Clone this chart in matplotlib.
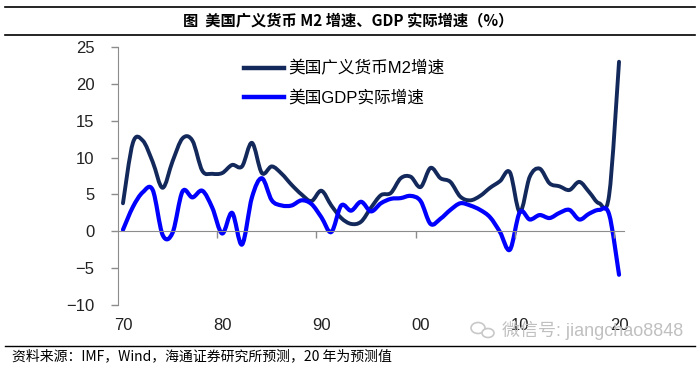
import numpy as np
import matplotlib
matplotlib.use("Agg")
import matplotlib.pyplot as plt
from matplotlib.path import Path
from matplotlib.patches import PathPatch, Ellipse
from matplotlib.lines import Line2D
import matplotlib.transforms as mtransforms

years = list(range(1970, 2021))
m2_growth = [3.8, 12.0, 12.3, 9.4, 5.9, 9.5, 12.6, 12.3, 8.2, 7.8,
             7.9, 9.0, 8.8, 12.0, 7.9, 8.8, 7.8, 6.3, 5.0, 4.1,
             5.5, 3.5, 1.8, 1.0, 1.3, 3.2, 4.9, 5.2, 7.2, 7.4,
             6.0, 8.6, 7.2, 6.7, 4.7, 4.2, 4.8, 5.9, 6.8, 8.0,
             2.6, 7.4, 8.5, 6.5, 6.1, 5.6, 6.7, 5.3, 3.8, 4.9,
             23.0]
gdp_growth = [0.2, 3.3, 5.3, 5.6, -0.5, -0.2, 5.4, 4.6, 5.5, 3.2,
              -0.3, 2.5, -1.8, 4.6, 7.2, 4.2, 3.5, 3.5, 4.2, 3.7,
              1.9, -0.1, 3.5, 2.8, 4.0, 2.7, 3.8, 4.4, 4.5, 4.8,
              4.1, 1.0, 1.7, 2.9, 3.8, 3.5, 2.9, 1.9, -0.1, -2.5,
              2.6, 1.6, 2.2, 1.8, 2.5, 2.9, 1.6, 2.4, 2.9, 2.3,
              -5.9]
tick_years = [1970, 1980, 1990, 2000, 2010, 2020]
tick_labels = ["70", "80", "90", "00", "10", "20"]
series_names = ["美国广义货币M2增速", "美国GDP实际增速"]

navy = "#13295b"
blue = "#0000ff"
grey = "#8c8c8c"
fonts = ["Liberation Sans", "Noto Sans CJK SC"]


def smooth_path(x, y):
    # excel-like smoothed line: bezier segments through the data points
    n = len(x)
    verts = [(x[0], y[0])]
    codes = [Path.MOVETO]
    for i in range(n - 1):
        xa, ya = (x[i - 1], y[i - 1]) if i > 0 else (x[i], y[i])
        xb, yb = (x[i + 2], y[i + 2]) if i + 2 < n else (x[i + 1], y[i + 1])
        c1 = (x[i] + (x[i + 1] - xa) / 6., y[i] + (y[i + 1] - ya) / 6.)
        c2 = (x[i + 1] - (xb - x[i]) / 6., y[i + 1] - (yb - y[i]) / 6.)
        verts += [c1, c2, (x[i + 1], y[i + 1])]
        codes += [Path.CURVE4] * 3
    return Path(verts, codes)


fig = plt.figure(figsize=(7.0, 3.66), dpi=100)
ax = fig.add_axes([118 / 700, 1 - 305 / 366, 506 / 700, 258 / 366])

for vals, col, lw in [(m2_growth, navy, 2.8), (gdp_growth, blue, 3.0)]:
    ax.add_patch(PathPatch(smooth_path(years, vals), facecolor="none",
                           edgecolor=col, lw=lw, capstyle="round",
                           joinstyle="round"))

ax.set_xlim(1969.5, 2020.5)
ax.set_ylim(-10, 25)
ax.set_yticks(range(-10, 26, 5))
for s in ["top", "right"]:
    ax.spines[s].set_visible(False)
ax.spines["left"].set_color(grey)
ax.spines["bottom"].set_color(grey)
ax.spines["bottom"].set_position(("data", 0))
ax.tick_params(axis="y", colors=grey, length=5, width=1, pad=12,
               labelcolor="#222222", labelsize=12)
ax.set_xticks([y - 0.5 for y in tick_years[1:]])
ax.set_xticklabels([])
ax.tick_params(axis="x", colors=grey, length=5, width=1)
for lab in ax.get_yticklabels():
    lab.set_family(fonts)

trans = mtransforms.blended_transform_factory(ax.transData, ax.transAxes)
for yr, lab in zip(tick_years, tick_labels):
    ax.text(yr, -0.08, lab, transform=trans, ha="center", va="center",
            fontsize=12, color="#222222", family=fonts)

handles = [Line2D([], [], color=navy, lw=3.2), Line2D([], [], color=blue, lw=3.2)]
ax.legend(handles, series_names, loc="upper left", bbox_to_anchor=(0.249, 0.948),
          frameon=False, borderpad=0, borderaxespad=0, handlelength=2.4,
          handletextpad=0.25, labelspacing=0.78,
          prop={"family": fonts, "size": 12})

# header / footer rules and text
fig.add_artist(Line2D([0.007, 0.993], [1 - 7 / 366] * 2, color="black", lw=1.2))
fig.add_artist(Line2D([0.007, 0.993], [1 - 35 / 366] * 2, color="black", lw=1.2))
fig.add_artist(Line2D([0.007, 0.993], [1 - 346 / 366] * 2, color="black", lw=1.0))
fig.text(0.497, 1 - 21 / 366, "图  美国广义货币 M2 增速、GDP 实际增速（%）",
         ha="center", va="center", fontsize=11, weight="bold",
         family=["Noto Sans CJK SC", "DejaVu Sans"])
fig.text(12 / 700, 1 - 356 / 366,
         "资料来源：IMF，Wind，海通证券研究所预测，20 年为预测值",
         ha="left", va="center", fontsize=10, family=["Noto Sans CJK SC", "DejaVu Sans"])

# watermark
fig.add_artist(Ellipse((478 / 700, 1 - 328 / 366), 14 / 700, 11 / 366,
                       facecolor="none", edgecolor="#c8c8c8", lw=1.2))
fig.add_artist(Ellipse((488 / 700, 1 - 333 / 366), 12 / 700, 9 / 366,
                       facecolor="white", edgecolor="#c8c8c8", lw=1.2))
fig.text(502 / 700, 1 - 330 / 366, "微信号: jiangchao8848", ha="left",
         va="center", fontsize=13, color="#c0c0c0",
         family=["Liberation Sans", "Noto Sans CJK SC"])

fig.savefig("out.png", dpi=100)
